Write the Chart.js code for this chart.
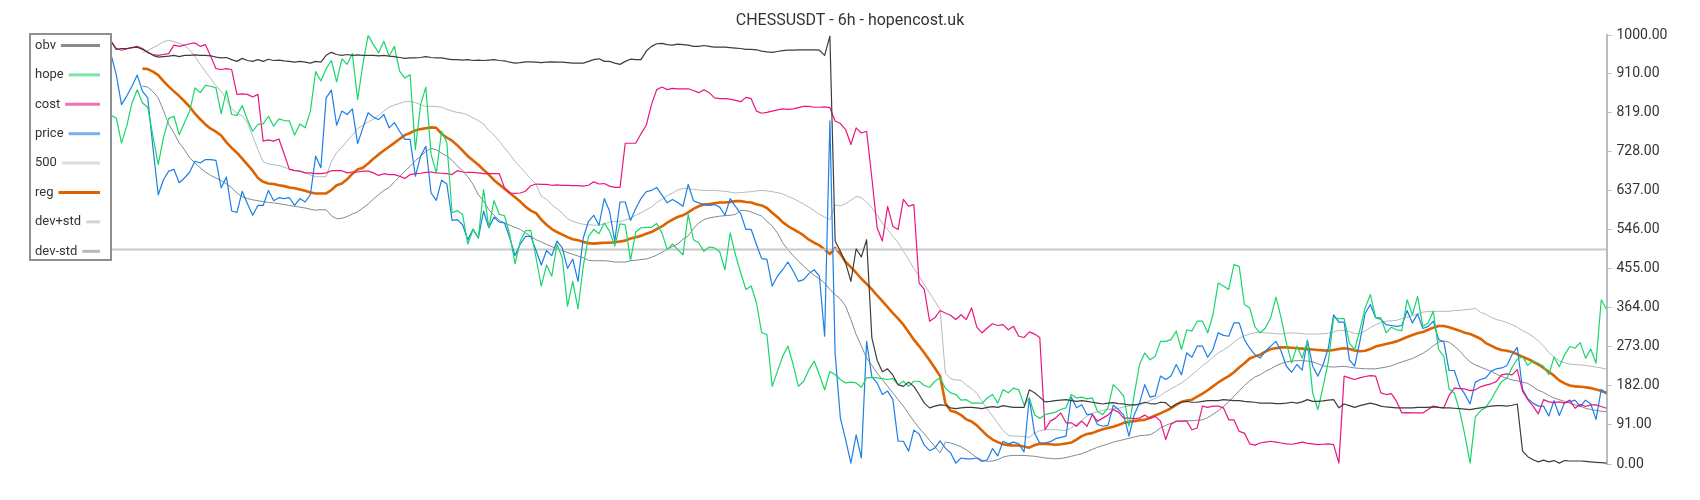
<!DOCTYPE html>
<html>
<head>
<meta charset="utf-8">
<script src="https://cdn.jsdelivr.net/npm/chart.js@4.4.1/dist/chart.umd.min.js"></script>
<style>
  html, body { margin: 0; padding: 0; background: #fff; }
</style>
</head>
<body>
<canvas id="chart" width="1700" height="500"></canvas>
<script>
// ── DADOS ─────────────────────────────────────────────────────────
// one value per 6h candle

const obv = [
  986, 967, 969, 969, 971, 972, 967, 961, 953, 949,
  950, 951, 953, 950, 953, 953, 954, 953, 953, 952,
  949, 947, 948, 943, 939, 946, 941, 939, 943, 939,
  944, 941, 942, 940, 939, 937, 939, 937, 935, 939,
  937, 953, 960, 955, 953, 955, 953, 954, 953, 953,
  953, 952, 953, 951, 950, 948, 946, 947, 947, 948,
  950, 948, 947, 947, 945, 943, 943, 942, 943, 941,
  942, 941, 942, 943, 941, 940, 937, 935, 936, 938,
  938, 937, 936, 937, 938, 937, 937, 936, 935, 935,
  935, 939, 943, 945, 939, 939, 935, 932, 939, 944,
  943, 943, 963, 974, 980, 981, 978, 977, 979, 978,
  977, 974, 974, 976, 974, 972, 972, 972, 971, 970,
  969, 967, 967, 966, 963, 961, 960, 962, 964, 965,
  965, 966, 966, 966, 966, 965, 953, 998, 520, 496,
  469, 426, 502, 483, 523, 294, 242, 215, 222, 207,
  185, 181, 191, 181, 162, 142, 131, 135, 138, 137,
  131, 129, 131, 132, 132, 131, 129, 132, 134, 132,
  136, 134, 132, 132, 132, 173, 166, 156, 145, 146,
  148, 149, 150, 148, 146, 148, 146, 144, 142, 140,
  142, 143, 141, 140, 138, 138, 140, 144, 141, 140,
  144, 143, 132, 140, 144, 146, 144, 144, 146, 148,
  148, 148, 150, 149, 148, 148, 146, 145, 144, 142,
  142, 142, 141, 141, 142, 144, 142, 145, 150, 146,
  146, 147, 149, 150, 131, 140, 136, 132, 136, 139,
  142, 139, 135, 133, 132, 131, 131, 131, 131, 132,
  132, 132, 133, 132, 131, 131, 130, 129, 128, 127,
  129, 131, 133, 135, 136, 136, 135, 137, 140, 30,
  17, 10, 5, 9, 5, 8, 2, 8, 7, 7,
  7, 6, 5, 4, 3, 2
];

const hope = [
  813, 807, 749, 788, 842, 873, 842, 832, 764, 698,
  761, 806, 811, 768, 796, 823, 877, 866, 883, 881,
  877, 817, 871, 815, 813, 836, 803, 776, 792, 793,
  811, 788, 805, 801, 800, 767, 793, 784, 823, 915,
  893, 922, 941, 891, 945, 932, 957, 850, 932, 1000,
  978, 959, 986, 951, 974, 916, 900, 908, 733, 838,
  879, 722, 679, 776, 749, 586, 591, 582, 513, 547,
  527, 640, 552, 614, 582, 579, 534, 467, 520, 544,
  545, 481, 415, 464, 438, 512, 481, 368, 426, 362,
  461, 531, 547, 537, 562, 543, 508, 560, 558, 475,
  541, 551, 552, 552, 561, 539, 500, 513, 500, 488,
  582, 523, 516, 496, 506, 504, 495, 453, 539, 488,
  446, 407, 415, 376, 306, 302, 181, 216, 251, 275,
  232, 181, 193, 220, 240, 208, 173, 216, 208, 197,
  189, 191, 189, 179, 201, 202, 201, 199, 197, 199,
  185, 193, 181, 193, 193, 183, 179, 193, 201, 177,
  166, 162, 149, 150, 142, 142, 142, 154, 162, 142,
  173, 166, 177, 173, 138, 154, 115, 106, 115, 118,
  121, 127, 131, 162, 154, 156, 152, 154, 123, 115,
  131, 185, 173, 158, 88, 162, 232, 259, 243, 251,
  286, 286, 290, 310, 267, 313, 310, 333, 333, 306,
  348, 422, 415, 407, 465, 461, 372, 364, 320, 306,
  317, 341, 389, 341, 282, 236, 275, 247, 286, 166,
  127, 181, 240, 341, 339, 339, 282, 267, 313, 364,
  395, 342, 341, 306, 319, 313, 311, 383, 348, 391,
  321, 329, 356, 267, 251, 175, 165, 125, 68, 2,
  110, 124, 132, 150, 172, 192, 200, 225, 245, 250,
  230, 240, 235, 228, 208, 249, 227, 254, 274, 270,
  283, 247, 268, 235, 383, 361
];

const cost = [
  986, 969, 965, 968, 971, 974, 969, 959, 955, 953,
  955, 957, 977, 974, 977, 980, 982, 974, 978, 951,
  922, 920, 922, 920, 862, 863, 862, 856, 862, 753,
  756, 753, 758, 723, 687, 684, 683, 679, 679, 677,
  677, 679, 684, 684, 684, 679, 681, 681, 683, 683,
  679, 673, 677, 675, 675, 671, 666, 675, 677, 678,
  680, 681, 679, 678, 677, 675, 684, 681, 680, 680,
  679, 677, 677, 677, 677, 644, 632, 631, 632, 636,
  649, 653, 652, 652, 650, 651, 650, 650, 649, 649,
  648, 650, 658, 653, 654, 648, 645, 645, 748, 748,
  748, 770, 790, 838, 873, 879, 873, 876, 875, 875,
  875, 871, 866, 873, 866, 854, 852, 852, 851, 848,
  845, 855, 852, 823, 818, 820, 823, 826, 828, 827,
  828, 831, 834, 834, 832, 832, 833, 831, 800, 794,
  780, 745, 784, 772, 776, 667, 551, 520, 601, 554,
  547, 617, 601, 605, 422, 407, 333, 341, 358, 352,
  347, 337, 348, 337, 364, 319, 306, 317, 327, 323,
  325, 313, 321, 298, 295, 308, 303, 295, 80, 100,
  107, 119, 96, 96, 88, 100, 88, 115, 100, 107,
  114, 127, 121, 107, 107, 106, 107, 114, 106, 111,
  100, 57, 92, 100, 100, 100, 80, 84, 135, 132,
  135, 135, 131, 103, 103, 76, 72, 47, 44, 49,
  51, 53, 51, 49, 47, 46, 48, 51, 48, 47,
  45, 46, 47, 45, 2, 205, 201, 197, 201, 204,
  206, 205, 166, 162, 164, 146, 119, 120, 119, 119,
  119, 127, 135, 132, 131, 160, 177, 176, 175, 171,
  173, 180, 184, 187, 192, 208, 210, 208, 220, 170,
  150, 135, 117, 150, 145, 143, 145, 142, 149, 130,
  139, 134, 138, 138, 134, 130
];

const price = [
  955, 908, 838, 858, 881, 907, 869, 854, 737, 628,
  663, 683, 687, 656, 667, 681, 706, 702, 710, 710,
  708, 644, 669, 590, 587, 636, 607, 580, 603, 603,
  638, 614, 621, 619, 621, 603, 619, 611, 628, 718,
  691, 854, 872, 790, 823, 815, 828, 747, 784, 819,
  809, 803, 815, 784, 796, 776, 757, 757, 671, 718,
  741, 632, 615, 662, 653, 568, 570, 558, 523, 548,
  527, 590, 551, 576, 564, 562, 527, 486, 513, 531,
  531, 498, 464, 498, 486, 520, 504, 456, 478, 426,
  527, 566, 580, 557, 619, 590, 520, 611, 611, 568,
  596, 619, 635, 638, 645, 627, 609, 617, 610, 601,
  652, 614, 609, 605, 603, 605, 599, 580, 619, 601,
  584, 547, 547, 512, 479, 477, 415, 438, 453, 471,
  450, 426, 430, 444, 453, 438, 298, 800, 257, 107,
  57, 2, 68, 14, 286, 203, 189, 162, 170, 150,
  53, 53, 30, 79, 70, 44, 31, 37, 54, 37,
  26, 2, 14, 12, 12, 14, 6, 10, 36, 19,
  53, 47, 51, 47, 28, 154, 72, 49, 49, 52,
  59, 62, 65, 156, 131, 138, 115, 117, 92, 88,
  90, 137, 127, 114, 65, 115, 142, 185, 156, 159,
  205, 197, 205, 232, 208, 259, 249, 275, 275, 249,
  267, 306, 300, 298, 329, 329, 290, 270, 255, 247,
  263, 275, 286, 263, 228, 214, 232, 219, 289, 228,
  205, 232, 271, 348, 331, 331, 243, 228, 286, 351,
  372, 341, 337, 325, 323, 321, 323, 358, 329, 350,
  316, 321, 333, 290, 285, 218, 218, 181, 163, 140,
  191, 197, 201, 216, 222, 224, 229, 255, 272, 175,
  152, 142, 135, 135, 112, 148, 113, 143, 145, 149,
  134, 149, 140, 104, 174, 163
];

const reg = [
  null, null, null, null, null, null, 922, 921, 915, 907,
  893, 880, 869, 858, 846, 833, 817, 804, 792, 782,
  775, 766, 750, 737, 726, 712, 698, 684, 667, 658,
  654, 653, 650, 648, 645, 643, 640, 637, 633, 631,
  631, 631, 639, 650, 654, 664, 677, 687, 691, 701,
  712, 722, 731, 740, 749, 758, 767, 772, 778, 781,
  783, 785, 784, 770, 761, 754, 743, 731, 718, 708,
  698, 686, 675, 662, 652, 642, 632, 622, 612, 600,
  591, 585, 570, 558, 548, 541, 535, 529, 524, 522,
  518, 515, 514, 515, 516, 516, 517, 519, 521, 526,
  529, 532, 537, 541, 548, 554, 563, 570, 576, 580,
  587, 595, 601, 605, 606, 608, 610, 610, 611, 613,
  613, 611, 610, 606, 603, 597, 586, 576, 564, 555,
  548, 541, 533, 523, 516, 510, 500, 490, 504, 490,
  471, 459, 446, 432, 420, 407, 393, 380, 366, 352,
  339, 325, 308, 290, 275, 259, 242, 224, 205, 142,
  124, 121, 114, 104, 99, 90, 78, 66, 57, 51,
  46, 44, 43, 43, 41, 38, 44, 47, 47, 46,
  45, 46, 48, 50, 57, 65, 70, 72, 77, 81,
  84, 87, 91, 96, 98, 100, 102, 103, 108, 113,
  118, 124, 130, 138, 145, 148, 150, 157, 164, 172,
  181, 190, 198, 205, 214, 225, 235, 246, 251, 255,
  262, 268, 270, 272, 272, 271, 270, 269, 268, 267,
  266, 265, 264, 266, 268, 270, 268, 265, 263, 264,
  268, 274, 277, 280, 283, 286, 291, 296, 301, 305,
  308, 313, 318, 322, 322, 319, 315, 311, 306, 303,
  298, 292, 282, 276, 270, 266, 264, 261, 256, 250,
  245, 239, 232, 224, 215, 206, 195, 188, 183, 181,
  180, 179, 177, 174, 170, 166
];

const devPlus = [
  null, null, null, null, null, null, 959, 964, 971, 977,
  985, 988, 985, 981, 976, 966, 950, 932, 915, 899,
  882, 869, 850, 829, 818, 812, 796, 765, 733, 705,
  700, 698, 696, 692, 688, 685, 683, 679, 674, 670,
  670, 670, 705, 726, 739, 753, 767, 782, 790, 798,
  804, 813, 823, 832, 837, 841, 845, 845, 843, 838,
  834, 834, 834, 832, 827, 823, 820, 818, 814, 807,
  801, 793, 778, 767, 753, 737, 722, 706, 692, 679,
  665, 652, 624, 617, 605, 595, 585, 572, 566, 562,
  559, 558, 557, 557, 560, 564, 566, 565, 569, 573,
  580, 586, 593, 599, 610, 617, 626, 632, 639, 642,
  643, 640, 639, 638, 638, 638, 637, 636, 634, 632,
  633, 634, 635, 637, 638, 637, 635, 633, 630, 624,
  619, 613, 606, 599, 591, 582, 576, 570, 604, 602,
  607, 615, 624, 621, 611, 597, 580, 562, 547, 531,
  516, 496, 477, 456, 438, 418, 399, 380, 360, 212,
  199, 196, 195, 184, 176, 165, 146, 128, 112, 95,
  78, 67, 65, 65, 64, 62, 72, 78, 80, 80,
  80, 79, 78, 84, 93, 102, 111, 118, 122, 125,
  127, 129, 130, 133, 135, 137, 138, 142, 148, 153,
  160, 168, 175, 182, 189, 198, 208, 218, 230, 238,
  249, 259, 266, 274, 284, 293, 299, 303, 306, 308,
  306, 305, 304, 303, 305, 306, 305, 304, 303, 303,
  303, 304, 305, 308, 312, 311, 309, 304, 304, 310,
  318, 325, 330, 333, 334, 335, 339, 342, 346, 350,
  354, 356, 356, 356, 356, 356, 358, 358, 360, 361,
  363, 354, 349, 342, 337, 334, 330, 325, 319, 311,
  305, 297, 287, 275, 260, 250, 240, 236, 233, 232,
  231, 230, 228, 226, 224, 221
];

const devMinus = [
  null, null, null, null, null, null, 881, 879, 868, 854,
  824, 792, 772, 749, 733, 714, 702, 691, 681, 673,
  667, 661, 653, 644, 632, 623, 619, 616, 614, 612,
  610, 609, 607, 605, 603, 601, 599, 597, 594, 592,
  593, 593, 579, 572, 573, 577, 583, 588, 597, 606,
  618, 628, 638, 645, 658, 670, 683, 694, 707, 718,
  729, 736, 733, 725, 718, 708, 695, 684, 670, 652,
  628, 613, 593, 580, 568, 562, 557, 552, 547, 539,
  531, 523, 518, 512, 507, 502, 498, 493, 489, 485,
  481, 475, 474, 474, 474, 473, 471, 471, 471, 474,
  475, 477, 478, 482, 487, 494, 500, 507, 513, 524,
  532, 549, 562, 570, 574, 576, 578, 579, 580, 582,
  591, 591, 588, 583, 578, 566, 555, 539, 516, 500,
  486, 473, 462, 450, 440, 432, 422, 407, 395, 385,
  368, 337, 302, 275, 247, 230, 212, 197, 181, 166,
  150, 135, 117, 100, 84, 70, 55, 41, 26, 51,
  49, 45, 40, 33, 24, 15, 9, 6, 7, 10,
  16, 19, 20, 20, 20, 19, 18, 16, 14, 13,
  12, 13, 15, 18, 21, 24, 29, 34, 39, 43,
  47, 51, 54, 57, 60, 63, 66, 67, 68, 75,
  84, 90, 95, 99, 100, 101, 101, 102, 103, 108,
  116, 124, 134, 145, 158, 171, 183, 194, 203, 208,
  216, 222, 229, 234, 238, 240, 241, 241, 240, 238,
  234, 229, 227, 226, 227, 228, 226, 224, 223, 222,
  222, 222, 224, 226, 229, 234, 238, 242, 246, 252,
  258, 266, 276, 284, 287, 284, 275, 264, 250, 238,
  231, 226, 221, 216, 210, 204, 200, 196, 194, 191,
  188, 180, 172, 167, 160, 154, 150, 146, 142, 138,
  135, 130, 127, 125, 123, 122
];

const level500 = 500;
const yTicks = [0, 91, 182, 273, 364, 455, 546, 637, 728, 819, 910, 1000];

const candles = price.map((_, i) => i);

// ── LEGENDA ───────────────────────────────────────────────────────

const legendBox = {
  id: 'legendBox',
  afterDraw(chart) {
    const ctx = chart.ctx;
    const sets = chart.data.datasets;
    ctx.save();
    ctx.fillStyle = '#fff';
    ctx.fillRect(30, 34, 81, 226);
    ctx.strokeStyle = '#8f8f8f';
    ctx.lineWidth = 2;
    ctx.strokeRect(30, 34, 81, 226);
    ctx.font = '13px Roboto';
    ctx.textBaseline = 'middle';
    sets.forEach((ds, k) => {
      const y = 45.5 + k * 29.4;
      ctx.fillStyle = '#333';
      ctx.fillText(ds.label, 35, y);
      const x0 = 35 + ctx.measureText(ds.label).width + 5;
      ctx.globalAlpha = ds.label === 'reg' ? 1 : 0.6;
      ctx.strokeStyle = ds.borderColor;
      ctx.lineWidth = 3;
      ctx.beginPath();
      ctx.moveTo(x0, y);
      ctx.lineTo(100, y);
      ctx.stroke();
      ctx.globalAlpha = 1;
    });
    ctx.restore();
  }
};

// ── GRÁFICO ───────────────────────────────────────────────────────

function serie(label, data, color, width) {
  return {
    label, data,
    yAxisID: 'y',
    borderColor: color,
    backgroundColor: color,
    borderWidth: width,
    pointRadius: 0,
    tension: 0,
    borderJoinStyle: 'round',
    spanGaps: false,
  };
}

Chart.defaults.font.family = 'Roboto';
Chart.defaults.color = '#333';

new Chart(document.getElementById('chart'), {
  type: 'line',
  data: {
    labels: candles,
    datasets: [
      serie('obv', obv, '#3d3d3d', 1.2),
      serie('hope', hope, '#19d66b', 1.2),
      serie('cost', cost, '#e8177e', 1.2),
      serie('price', price, '#1b7fe6', 1.2),
      serie('500', candles.map(() => level500), '#c8c8c8', 2),
      serie('reg', reg, '#dd6200', 2.6),
      serie('dev+std', devPlus, '#b3b9bf', 1),
      serie('dev-std', devMinus, '#7f8a94', 1),
    ],
  },
  options: {
    responsive: false,
    animation: false,
    events: [],
    layout: { padding: { left: 0, right: 0, top: 0, bottom: 36 } },
    plugins: {
      legend: { display: false },
      tooltip: { enabled: false },
      title: {
        display: true,
        text: 'CHESSUSDT - 6h - hopencost.uk',
        color: '#333',
        font: { size: 16, weight: 'normal' },
        padding: { top: 11, bottom: 5 },
      },
    },
    scales: {
      x: { type: 'category', display: false, offset: false },
      y: {
        position: 'right',
        min: 0,
        max: 1000,
        afterBuildTicks: axis => { axis.ticks = yTicks.map(v => ({ value: v })); },
        afterFit: axis => { axis.width = 93.5; },
        ticks: {
          color: '#333',
          font: { size: 14 },
          padding: 5,
          callback: v => Number(v).toFixed(2),
        },
        grid: { drawOnChartArea: false, drawTicks: true, tickLength: 5, color: '#b5bdc4' },
        border: { display: true, color: '#b5bdc4', width: 2 },
      },
      // empty space on the left where the legend box sits
      yl: {
        position: 'left',
        display: true,
        grid: { display: false },
        border: { display: false },
        ticks: { display: false },
        afterFit: axis => { axis.width = 111; },
      },
    },
  },
  plugins: [legendBox],
});
</script>
</body>
</html>
